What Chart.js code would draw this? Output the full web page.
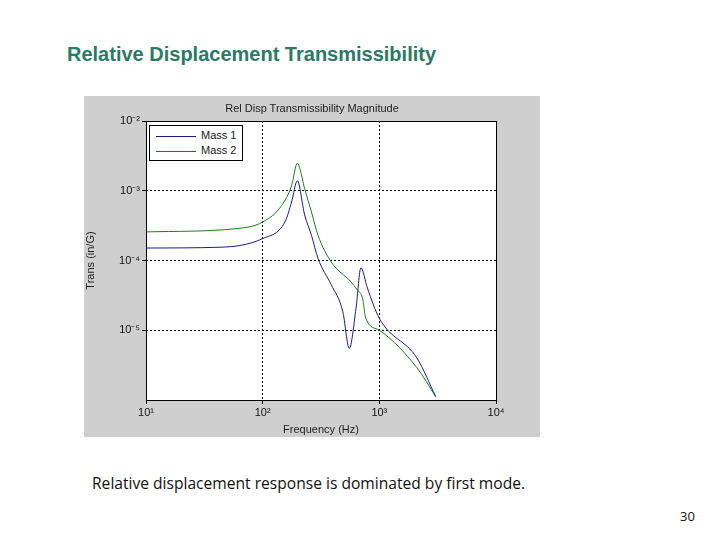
<!DOCTYPE html>
<html>
<head>
<meta charset="utf-8">
<script src="https://cdn.jsdelivr.net/npm/chart.js@4/dist/chart.umd.min.js"></script>
<style>
body { margin:0; width:720px; height:540px; background:#fff; position:relative; font-family:"Liberation Sans", Arial, sans-serif; overflow:hidden; }
#heading { position:absolute; left:67px; top:43px; font-size:20px; font-weight:bold; color:#2a7a64; }
#fig { position:absolute; left:84px; top:96px; width:456px; height:341px; background:#cfcfcf; }
#ptitle { position:absolute; left:0; width:456px; top:6px; text-align:center; font-size:11px; color:#222; }
#legend { position:absolute; left:65px; top:29px; background:#fff; border:1px solid #000; padding:2px 6px; font-size:11px; line-height:15px; color:#222; }
#legend span.sw { display:inline-block; width:40px; height:0; vertical-align:middle; margin-right:5px; }
#caption { position:absolute; left:92px; top:472px; font-size:15.6px; font-family:"Open Sans", sans-serif; color:#111; }
#pnum { position:absolute; left:680px; top:507px; font-size:13px; font-family:"Open Sans", sans-serif; color:#111; }
</style>
</head>
<body>
<div id="heading">Relative Displacement Transmissibility</div>
<div id="fig">
  <canvas id="c" width="456" height="341"></canvas>
  <div id="ptitle">Rel Disp Transmissibility Magnitude</div>
  <div id="legend">
    <div><span class="sw" style="border-top:1px solid #1a1a8c"></span>Mass 1</div>
    <div><span class="sw" style="border-top:1px solid #1e7a1e"></span>Mass 2</div>
  </div>
</div>
<div id="caption">Relative displacement response is dominated by first mode.</div>
<div id="pnum">30</div>
<script>
const freq1 = [10, 43, 100, 155, 177, 198, 229, 262, 298, 387, 486, 553, 631, 695, 791, 1000, 2100, 3040];
const mass1 = [1.51e-4, 1.55e-4, 2.06e-4, 3.56e-4, 6.9e-4, 1.39e-3, 4.5e-4, 2.3e-4, 1.07e-4, 4.5e-5, 1.86e-5, 5.5e-6, 2.06e-5, 7.85e-5, 4.0e-5, 1.48e-5, 4.0e-6, 1.12e-6];
const freq2 = [10, 59, 100, 145, 177, 198, 229, 262, 298, 387, 571, 646, 718, 766, 1000, 2100, 3040];
const mass2 = [2.57e-4, 2.86e-4, 3.56e-4, 6.1e-4, 1.19e-3, 2.48e-3, 1.07e-3, 4.95e-4, 2.3e-4, 9.5e-5, 4.95e-5, 3.8e-5, 2.88e-5, 1.48e-5, 1.0e-5, 2.9e-6, 1.12e-6];
const xTicks = [10, 100, 1000, 10000];
const yTicks = [1e-5, 1e-4, 1e-3, 1e-2];

const sup = { '-': '⁻', '0': '⁰', '1': '¹', '2': '²', '3': '³', '4': '⁴', '5': '⁵', '6': '⁶' };
function pow10(v) {
    const e = String(Math.round(Math.log10(v)));
    return '10' + e.split('').map(ch => sup[ch]).join('');
}

const grid = { color: '#000', lineWidth: 1, drawTicks: true, tickLength: 4 };
const border = { display: false, dash: [2, 2] };

new Chart(document.getElementById('c'), {
    type: 'line',
    data: {
        datasets: [
            { label: 'Mass 1', data: freq1.map((f, i) => ({ x: f, y: mass1[i] })), borderColor: '#1a1a8c', borderWidth: 1, pointRadius: 0, cubicInterpolationMode: 'monotone' },
            { label: 'Mass 2', data: freq2.map((f, i) => ({ x: f, y: mass2[i] })), borderColor: '#1e7a1e', borderWidth: 1, pointRadius: 0, cubicInterpolationMode: 'monotone' }
        ]
    },
    plugins: [{
        id: 'bg',
        beforeDraw(chart) {
            const a = chart.chartArea, ctx = chart.ctx;
            ctx.save();
            ctx.fillStyle = '#fff';
            ctx.fillRect(a.left, a.top, a.right - a.left, a.bottom - a.top);
            ctx.restore();
        },
        afterDraw(chart) {
            const a = chart.chartArea, ctx = chart.ctx;
            ctx.save();
            ctx.strokeStyle = '#000';
            ctx.lineWidth = 1;
            ctx.strokeRect(a.left + 0.5, a.top + 0.5, a.right - a.left, a.bottom - a.top);
            ctx.restore();
        }
    }],
    options: {
        responsive: false,
        animation: false,
        layout: { padding: { top: 25, right: 44, left: 0, bottom: 0 } },
        plugins: { legend: { display: false }, tooltip: { enabled: false } },
        scales: {
            x: {
                type: 'logarithmic', min: 10, max: 10000,
                afterBuildTicks: s => { s.ticks = xTicks.map(v => ({ value: v })); },
                afterFit: s => { s.height = 37; },
                ticks: { callback: v => pow10(v), color: '#111', font: { size: 11 }, maxRotation: 0, padding: 2 },
                grid: grid,
                border: border,
                title: { display: true, text: 'Frequency (Hz)', color: '#222', font: { size: 11 }, padding: 0 }
            },
            y: {
                type: 'logarithmic', min: 1e-6, max: 1e-2,
                afterBuildTicks: s => { s.ticks = yTicks.map(v => ({ value: v })); },
                afterFit: s => { s.width = 62; },
                ticks: { callback: v => pow10(v), color: '#111', font: { size: 11 }, padding: 2 },
                grid: grid,
                border: border,
                title: { display: true, text: 'Trans (in/G)', color: '#222', font: { size: 11 }, padding: 0 }
            }
        }
    }
});
</script>
</body>
</html>
